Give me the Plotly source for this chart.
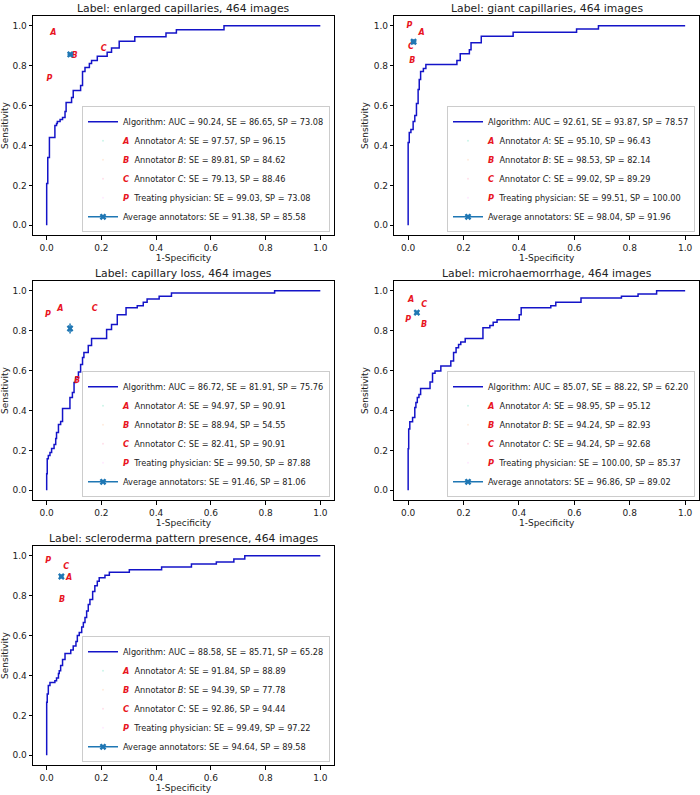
import plotly.graph_objects as go

# ---------------- data ----------------
labels = ["enlarged capillaries", "giant capillaries", "capillary loss",
          "microhaemorrhage", "scleroderma pattern presence"]
n_images = 464

auc = [90.24, 92.61, 86.72, 85.07, 88.58]
alg_se = [86.65, 93.87, 81.91, 88.22, 85.71]
alg_sp = [73.08, 78.57, 75.76, 62.20, 65.28]

annA_se = [97.57, 95.10, 94.97, 98.95, 91.84]
annA_sp = [96.15, 96.43, 90.91, 95.12, 88.89]
annB_se = [89.81, 98.53, 88.94, 94.24, 94.39]
annB_sp = [84.62, 82.14, 54.55, 82.93, 77.78]
annC_se = [79.13, 99.02, 82.41, 94.24, 92.86]
annC_sp = [88.46, 89.29, 90.91, 92.68, 94.44]
phys_se = [99.03, 99.51, 99.50, 100.00, 99.49]
phys_sp = [73.08, 100.00, 87.88, 85.37, 97.22]
avg_se = [91.38, 98.04, 91.46, 96.86, 94.64]
avg_sp = [85.58, 91.96, 81.06, 89.02, 89.58]
avg_err_x = [0.010, 0.010, 0.004, 0.008, 0.008]
avg_err_y = [0.010, 0.012, 0.025, 0.010, 0.010]

# ROC step curves (1-specificity, sensitivity)
fpr1 = [0, 0, 0.004, 0.010, 0.030, 0.036, 0.039, 0.049, 0.058, 0.067, 0.071, 0.091, 0.097,
        0.124, 0.131, 0.140, 0.156, 0.164, 0.185, 0.221, 0.237, 0.265, 0.322, 0.436, 0.474,
        0.648, 1.0]
tpr1 = [0, 0.21, 0.34, 0.44, 0.50, 0.51, 0.52, 0.53, 0.54, 0.57, 0.615, 0.64, 0.675,
        0.70, 0.77, 0.79, 0.81, 0.825, 0.847, 0.867, 0.888, 0.922, 0.944, 0.963, 0.98,
        1.0, 1.0]

fpr2 = [0, 0, 0.004, 0.010, 0.018, 0.024, 0.030, 0.036, 0.040, 0.045, 0.055, 0.064, 0.176,
        0.188, 0.221, 0.227, 0.264, 0.379, 0.608, 0.687, 1.0]
tpr2 = [0, 0.415, 0.465, 0.48, 0.52, 0.55, 0.61, 0.68, 0.73, 0.77, 0.785, 0.805, 0.826,
        0.86, 0.88, 0.914, 0.947, 0.967, 0.983, 1.0, 1.0]

fpr3 = [0, 0, 0.002, 0.006, 0.012, 0.018, 0.027, 0.033, 0.036, 0.043, 0.051, 0.058, 0.085,
        0.094, 0.100, 0.106, 0.116, 0.124, 0.131, 0.136, 0.152, 0.164, 0.219, 0.237, 0.258,
        0.290, 0.331, 0.353, 0.367, 0.411, 0.456, 0.833, 1.0]
tpr3 = [0, 0.083, 0.158, 0.175, 0.19, 0.21, 0.23, 0.26, 0.29, 0.33, 0.345, 0.41, 0.465,
        0.49, 0.54, 0.565, 0.593, 0.63, 0.665, 0.69, 0.725, 0.76, 0.805, 0.83, 0.88,
        0.914, 0.925, 0.942, 0.958, 0.972, 0.988, 1.0, 1.0]

fpr4 = [0, 0, 0.002, 0.006, 0.016, 0.024, 0.028, 0.033, 0.039, 0.045, 0.079, 0.088, 0.097,
        0.118, 0.154, 0.164, 0.173, 0.182, 0.190, 0.206, 0.270, 0.295, 0.307, 0.321, 0.401,
        0.408, 0.515, 0.533, 0.624, 0.770, 0.830, 0.897, 1.0]
tpr4 = [0, 0.208, 0.307, 0.344, 0.365, 0.415, 0.44, 0.465, 0.48, 0.51, 0.543, 0.586, 0.598,
        0.623, 0.648, 0.69, 0.714, 0.73, 0.743, 0.76, 0.814, 0.826, 0.842, 0.855, 0.88,
        0.914, 0.925, 0.942, 0.963, 0.972, 0.983, 1.0, 1.0]

fpr5 = [0, 0, 0.002, 0.006, 0.012, 0.030, 0.036, 0.043, 0.046, 0.051, 0.058, 0.067, 0.088,
        0.097, 0.107, 0.112, 0.119, 0.128, 0.134, 0.140, 0.146, 0.152, 0.158, 0.168, 0.176,
        0.185, 0.192, 0.213, 0.229, 0.302, 0.420, 0.529, 0.620, 0.684, 0.724, 1.0]
tpr5 = [0, 0.266, 0.307, 0.35, 0.365, 0.374, 0.387, 0.41, 0.424, 0.45, 0.48, 0.51, 0.527,
        0.548, 0.57, 0.60, 0.615, 0.643, 0.665, 0.69, 0.723, 0.756, 0.78, 0.82, 0.85,
        0.872, 0.889, 0.902, 0.917, 0.93, 0.943, 0.958, 0.968, 0.983, 1.0, 1.0]

fprs = [fpr1, fpr2, fpr3, fpr4, fpr5]
tprs = [tpr1, tpr2, tpr3, tpr4, tpr5]

# ---------------- layout helpers ----------------
W, H = 700, 795
FONT = "DejaVu Sans"
col_dom = [[33 / W, 334 / W], [394.3 / W, 699 / W]]
row_dom = [[1 - 235.3 / H, 1 - 15.7 / H], [1 - 500.3 / H, 1 - 280.7 / H], [1 - 765.3 / H, 1 - 545.7 / H]]
positions = [(0, 0), (0, 1), (1, 0), (1, 1), (2, 0)]

LINE_BLUE = "#1414c8"
RED = "#e8141e"
AVG_BLUE = "#1f77b4"
TXT = "#222"

fig = go.Figure()
layout = dict(
    width=W, height=H,
    margin=dict(l=0, r=0, t=0, b=0, autoexpand=False),
    paper_bgcolor="white", plot_bgcolor="white",
    font=dict(family=FONT, size=9, color=TXT),
    showlegend=True,
)
annotations = []

letters = ["A", "B", "C", "P"]

for i in range(5):
    r, c = positions[i]
    k = "" if i == 0 else str(i + 1)
    xa, ya = "x" + k, "y" + k
    lg = "legend" + k

    fig.add_trace(go.Scatter(
        x=fprs[i], y=tprs[i], mode="lines", line=dict(color=LINE_BLUE, width=1.5, shape="hv"),
        name=f"Algorithm: AUC = {auc[i]:.2f}, SE = {alg_se[i]:.2f}, SP = {alg_sp[i]:.2f}",
        xaxis=xa, yaxis=ya, legend=lg, hoverinfo="skip"))

    ses = [annA_se[i], annB_se[i], annC_se[i], phys_se[i]]
    sps = [annA_sp[i], annB_sp[i], annC_sp[i], phys_sp[i]]
    for j, L in enumerate(letters):
        who = f"Annotator <i>{L}</i>" if L != "P" else "Treating physician"
        name = (f"<span style='color:{RED}'><b><i>{L}</i></b></span>\u00a0\u00a0"
                f"{who}: SE = {ses[j]:.2f}, SP = {sps[j]:.2f}")
        # letter glyph in the plot
        fig.add_trace(go.Scatter(
            x=[1 - ses[j] / 100], y=[sps[j] / 100], mode="text", text=[f"<b><i>{L}</i></b>"],
            textfont=dict(color=RED, size=8, family=FONT), textposition="middle center",
            showlegend=False, xaxis=xa, yaxis=ya, hoverinfo="skip"))
        # legend entry
        fig.add_trace(go.Scatter(
            x=[None], y=[None], mode="markers", marker=dict(opacity=0, size=1),
            name=name, xaxis=xa, yaxis=ya, legend=lg, hoverinfo="skip"))

    fig.add_trace(go.Scatter(
        x=[1 - avg_se[i] / 100], y=[avg_sp[i] / 100], mode="lines+markers",
        marker=dict(symbol="x", size=6, color=AVG_BLUE),
        line=dict(color=AVG_BLUE, width=1.5),
        error_x=dict(type="data", array=[avg_err_x[i]], color=AVG_BLUE, thickness=1.5, width=0),
        error_y=dict(type="data", array=[avg_err_y[i]], color=AVG_BLUE, thickness=1.5, width=0),
        name=f"Average annotators: SE = {avg_se[i]:.2f}, SP = {avg_sp[i]:.2f}",
        xaxis=xa, yaxis=ya, legend=lg, hoverinfo="skip"))

    axis_common = dict(
        range=[-0.05, 1.05], showgrid=False, zeroline=False, automargin=False,
        showline=True, linecolor="black", linewidth=0.8, mirror=True,
        ticks="outside", ticklen=3.5, tickwidth=0.8, tickcolor="black",
        tickmode="array", tickvals=[0, 0.2, 0.4, 0.6, 0.8, 1.0],
        ticktext=["0.0", "0.2", "0.4", "0.6", "0.8", "1.0"],
        tickfont=dict(size=9, family=FONT, color=TXT),
    )
    layout["xaxis" + k] = dict(axis_common, domain=col_dom[c], anchor=ya,
                               title=dict(text="1-Specificity", standoff=3,
                                          font=dict(size=9, family=FONT, color=TXT)))
    layout["yaxis" + k] = dict(axis_common, domain=row_dom[r], anchor=xa,
                               title=dict(text="Sensitivity", standoff=3,
                                          font=dict(size=9, family=FONT, color=TXT)))
    layout[lg] = dict(
        x=col_dom[c][1] - 4 / W, xanchor="right",
        y=row_dom[r][0] + 3 / H, yanchor="bottom",
        bgcolor="rgba(255,255,255,0.85)", bordercolor="#cccccc", borderwidth=1,
        font=dict(size=8.2, family=FONT, color=TXT),
        tracegroupgap=0,
    )
    annotations.append(dict(
        text=f"Label: {labels[i]}, {n_images} images", xref=xa + " domain", yref=ya + " domain",
        x=0.5, y=1.0, xanchor="center", yanchor="bottom", yshift=-1, showarrow=False,
        font=dict(size=10.8, family=FONT, color=TXT)))

layout["annotations"] = annotations
fig.update_layout(**layout)
fig.write_html("out.html", config={"displayModeBar": False},
               post_script="document.body.style.margin='0';")
